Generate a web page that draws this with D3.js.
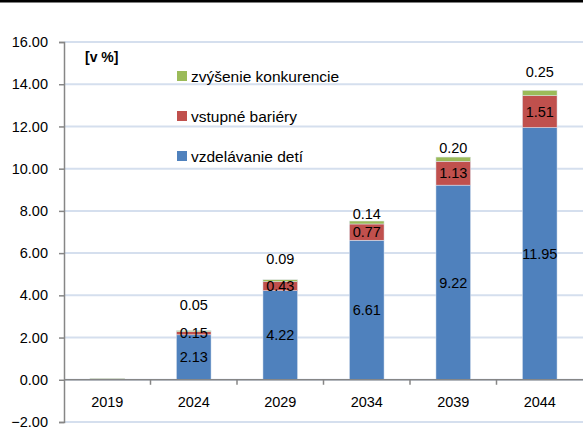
<!DOCTYPE html>
<html>
<head>
<meta charset="utf-8">
<script src="https://cdn.jsdelivr.net/npm/d3@7"></script>
<style>
  body { margin: 0; background: #fff; }
  svg text { font-family: "Liberation Sans", Arial, sans-serif; fill: #000; }
</style>
</head>
<body>
<div id="fig1"></div>
<script>
// data
const years = ["2019", "2024", "2029", "2034", "2039", "2044"];
const vzdelavanie = [0.03, 2.13, 4.22, 6.61, 9.22, 11.95];
const bariery = [0.02, 0.15, 0.43, 0.77, 1.13, 1.51];
const konkurencia = [0.02, 0.05, 0.09, 0.14, 0.20, 0.25];
const yTicks = [-2, 0, 2, 4, 6, 8, 10, 12, 14, 16];

// green labels sit above the bars, placed by hand in the original (value units)
const greenLabelAt = [null, 3.55, 5.73, 7.87, 11.0, 14.6];

const series = [
    {name: "vzdelávanie detí", values: vzdelavanie, color: "#4f81bd"},
    {name: "vstupné bariéry", values: bariery, color: "#c0504d"},
    {name: "zvýšenie konkurencie", values: konkurencia, color: "#9bbb59"}
];

const width = 583, height = 428;
const margin = {left: 64, right: 0, top: 42, bottom: 6};

const svg = d3.select("#fig1").append("svg")
    .attr("width", width)
    .attr("height", height);

// top black border
svg.append("rect")
    .attr("x", 0).attr("y", 0)
    .attr("width", width).attr("height", 2.5)
    .attr("fill", "#000");

const xScale = d3.scaleBand()
    .domain(years)
    .range([margin.left, width - margin.right])
    .paddingInner(0.6)
    .paddingOuter(0.3);

const xEdge = d3.scaleBand()
    .domain(years)
    .range([margin.left, width - margin.right]);

const yScale = d3.scaleLinear()
    .domain([-2, 16])
    .range([height - margin.bottom, margin.top]);

// gridlines
svg.append("g")
    .selectAll("line")
    .data(yTicks)
    .enter()
    .append("line")
    .attr("x1", margin.left)
    .attr("x2", width)
    .attr("y1", d => yScale(d))
    .attr("y2", d => yScale(d))
    .attr("stroke", "#d5dfee")
    .attr("stroke-width", 2);

// stacked bars
let stack = d3.stack()
    .keys([0, 1, 2])
    .value((i, k) => series[k].values[i]);
const layers = stack(d3.range(years.length));

layers.forEach((layer, k) => {
    svg.append("g")
        .selectAll("rect")
        .data(layer)
        .enter()
        .append("rect")
        .attr("x", (d, i) => xScale(years[i]))
        .attr("width", xScale.bandwidth())
        .attr("y", d => yScale(d[1]))
        .attr("height", d => yScale(d[0]) - yScale(d[1]))
        .attr("fill", series[k].color)
        .attr("stroke", "#dfe6f0")
        .attr("stroke-width", 0.5);
});

// value labels (centered in blue and red segments)
[0, 1].forEach(k => {
    svg.append("g")
        .selectAll("text")
        .data(layers[k])
        .enter()
        .filter((d, i) => i > 0)
        .append("text")
        .attr("x", d => xScale(years[d.data]) + xScale.bandwidth() / 2)
        .attr("y", d => yScale((d[0] + d[1]) / 2))
        .attr("dy", "0.35em")
        .attr("text-anchor", "middle")
        .style("font-size", "14.5px")
        .text(d => series[k].values[d.data].toFixed(2));
});

svg.append("g")
    .selectAll("text")
    .data(d3.range(1, years.length))
    .enter()
    .append("text")
    .attr("x", i => xScale(years[i]) + xScale.bandwidth() / 2)
    .attr("y", i => yScale(greenLabelAt[i]))
    .attr("dy", "0.35em")
    .attr("text-anchor", "middle")
    .style("font-size", "14.5px")
    .text(i => konkurencia[i].toFixed(2));

// y axis
const yAxis = svg.append("g")
    .attr("transform", "translate(" + margin.left + ",0)")
    .call(d3.axisLeft(yScale).tickValues(yTicks).tickFormat(d3.format(".2f")).tickSize(5).tickPadding(11));
yAxis.selectAll("text").style("font-size", "14.5px");

// x axis along zero, ticks between categories
const xAxis = svg.append("g")
    .attr("transform", "translate(0," + yScale(0) + ")")
    .call(d3.axisBottom(xScale).tickSize(0).tickPadding(17));
xAxis.selectAll("text").style("font-size", "14.5px");
xAxis.select(".domain").remove();

svg.append("line")
    .attr("x1", margin.left).attr("x2", width)
    .attr("y1", yScale(0)).attr("y2", yScale(0))
    .attr("stroke", "#868686").attr("stroke-width", 1.5);

svg.append("g")
    .selectAll("line")
    .data(years.slice(1))
    .enter()
    .append("line")
    .attr("x1", d => xEdge(d))
    .attr("x2", d => xEdge(d))
    .attr("y1", yScale(0))
    .attr("y2", yScale(0) + 5)
    .attr("stroke", "#868686").attr("stroke-width", 1.5);

yAxis.select(".domain").attr("stroke", "#868686").attr("stroke-width", 1.5);
yAxis.selectAll(".tick line").attr("stroke", "#868686").attr("stroke-width", 1.5);

// unit label
svg.append("text")
    .attr("x", 85)
    .attr("y", yScale(15.3))
    .attr("dy", "0.35em")
    .style("font-size", "14px")
    .style("font-weight", "bold")
    .text("[v %]");

// legend, top entry is the top of the stack
const legend = svg.append("g")
    .selectAll("g")
    .data(series.slice().reverse())
    .enter()
    .append("g")
    .attr("transform", (d, i) => "translate(177," + (77 + i * 40) + ")");

legend.append("rect")
    .attr("x", 0).attr("y", -6)
    .attr("width", 10).attr("height", 10)
    .attr("fill", d => d.color);

legend.append("text")
    .attr("x", 14)
    .attr("y", 0)
    .attr("dy", "0.35em")
    .style("font-size", "15.5px")
    .text(d => d.name);
</script>
</body>
</html>
